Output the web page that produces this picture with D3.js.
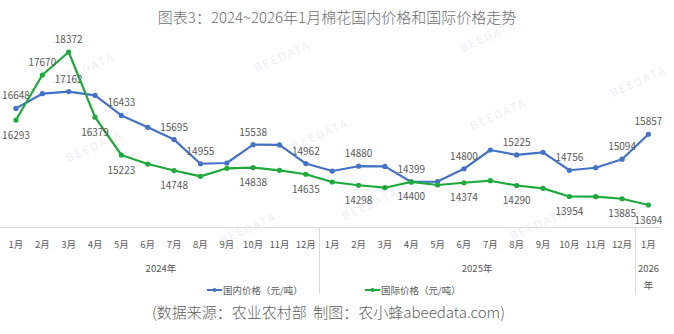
<!DOCTYPE html>
<html>
<head>
<meta charset="utf-8">
<script src="https://cdn.jsdelivr.net/npm/d3@7"></script>
<style>
  html, body { margin: 0; padding: 0; background: #fff; }
  svg { display: block; font-family: "Noto Sans CJK SC", "Noto Sans", sans-serif; }
</style>
</head>
<body>
<svg id="chart" width="674" height="334"></svg>
<script>
// Months (2024-01 .. 2026-01)
const months = ["1月","2月","3月","4月","5月","6月","7月","8月","9月","10月","11月","12月",
                "1月","2月","3月","4月","5月","6月","7月","8月","9月","10月","11月","12月",
                "1月"];
const years = [
  { label: "2024年", from: 0, to: 11 },
  { label: "2025年", from: 12, to: 23 },
  { label: "2026年", from: 24, to: 24 }
];

// Cotton prices (元/吨)
const domestic = [16648, 17097, 17162, 17048, 16433, 16070, 15695, 14955, 14978, 15538, 15530, 14962,
                  14733, 14880, 14875, 14399, 14410, 14800, 15376, 15225, 15305, 14756, 14834, 15094,
                  15857];
const international = [16293, 17670, 18372, 16379, 15223, 14947, 14748, 14571, 14816, 14838, 14755, 14635,
                       14397, 14298, 14223, 14400, 14305, 14374, 14437, 14290, 14204, 13954, 13950, 13885,
                       13694];

// Which points carry a value label
const domesticLabeled = [0, 2, 4, 6, 7, 9, 11, 13, 15, 17, 19, 21, 23, 24];
const internationalLabeled = [0, 1, 2, 3, 4, 6, 9, 11, 13, 15, 17, 19, 21, 23, 24];
// International labels sit below their points except around the early-2024 peak
const internationalAbove = [1, 2];

const seriesNames = ["国内价格（元/吨）", "国际价格（元/吨）"];
const titleText = "图表3：2024~2026年1月棉花国内价格和国际价格走势";
const sourceText = "(数据来源：农业农村部  制图：农小蜂abeedata.com)";

const colors = { domestic: "#4472C4", international: "#1FA83C" };

const svg = d3.select("#chart");

// Faint brand watermarks in the background
const marks = [[96, 150], [88, 72], [284, 60], [322, 138], [372, 208], [500, 118], [490, 40], [250, 232], [540, 228], [640, 85]];
svg.append("g").selectAll("text").data(marks).join("text")
  .attr("transform", d => `translate(${d[0]},${d[1]}) rotate(-24)`)
  .attr("text-anchor", "middle")
  .attr("font-size", 11)
  .attr("letter-spacing", 2)
  .attr("fill", "#eceef2")
  .text("BEEDATA");

// Title
svg.append("text")
  .attr("x", 337).attr("y", 23)
  .attr("text-anchor", "middle")
  .attr("font-size", 15)
  .attr("font-weight", 300)
  .attr("fill", "#6e6e6e")
  .text(titleText);

// Scales
const x = d3.scaleBand().domain(d3.range(months.length)).range([2.8, 661.6]).padding(0);
const cx = i => x(i) + x.bandwidth() / 2;
const y = d3.scaleLinear().domain([13000, 18700]).range([227.7, 41.3]);

// Category axis: baseline, month ticks, year group labels and separators
const axisY = 227.5;
const axisG = svg.append("g");
axisG.append("line")
  .attr("x1", x.range()[0] - 3).attr("x2", x.range()[1])
  .attr("y1", axisY).attr("y2", axisY)
  .attr("stroke", "#d9d9d9").attr("stroke-width", 1);

axisG.selectAll(".sep").data(years.slice(1)).join("line")
  .attr("class", "sep")
  .attr("x1", d => Math.round(x(d.from)) + 0.5).attr("x2", d => Math.round(x(d.from)) + 0.5)
  .attr("y1", axisY).attr("y2", 294)
  .attr("stroke", "#d9d9d9").attr("stroke-width", 1);

axisG.selectAll(".month").data(months).join("text")
  .attr("class", "month")
  .attr("x", (d, i) => cx(i)).attr("y", 248)
  .attr("text-anchor", "middle")
  .attr("font-size", 9.5)
  .attr("fill", "#595959")
  .text(d => d);

years.forEach(yr => {
  const mid = (x(yr.from) + x(yr.to) + x.bandwidth()) / 2;
  if (yr.from === yr.to) {
    // narrow group: wrap the label onto two lines
    const t = axisG.append("text")
      .attr("text-anchor", "middle").attr("font-size", 9.5).attr("fill", "#595959");
    t.append("tspan").attr("x", mid).attr("y", 271.5).text(yr.label.replace("年", ""));
    t.append("tspan").attr("x", mid).attr("y", 289).text("年");
  } else {
    axisG.append("text")
      .attr("x", mid).attr("y", 271.5)
      .attr("text-anchor", "middle").attr("font-size", 9.5).attr("fill", "#595959")
      .text(yr.label);
  }
});

// Lines, markers, value labels
const line = d3.line().x((d, i) => cx(i)).y(d => y(d));

function drawSeries(values, labeled, color, isAbove) {
  const g = svg.append("g");
  g.append("path").datum(values)
    .attr("d", line)
    .attr("fill", "none")
    .attr("stroke", color)
    .attr("stroke-width", 2.2)
    .attr("stroke-linejoin", "round");
  g.selectAll("circle").data(values).join("circle")
    .attr("cx", (d, i) => cx(i)).attr("cy", d => y(d))
    .attr("r", 2.6).attr("fill", color);
  g.selectAll("text").data(labeled).join("text")
    .attr("x", i => cx(i))
    .attr("y", i => y(values[i]) + (isAbove(i) ? -9 : 18.5))
    .attr("text-anchor", "middle")
    .attr("font-size", 10)
    .attr("fill", "#595959")
    .text(i => values[i]);
}
drawSeries(domestic, domesticLabeled, colors.domestic, () => true);
drawSeries(international, internationalLabeled, colors.international, i => internationalAbove.includes(i));

// Legend
const legend = [
  { name: seriesNames[0], color: colors.domestic, x: 207 },
  { name: seriesNames[1], color: colors.international, x: 365 }
];
const lg = svg.append("g").selectAll("g").data(legend).join("g")
  .attr("transform", d => `translate(${d.x},290)`);
lg.append("line").attr("x1", 0).attr("x2", 15).attr("y1", 0).attr("y2", 0)
  .attr("stroke", d => d.color).attr("stroke-width", 2);
lg.append("circle").attr("cx", 7.5).attr("cy", 0).attr("r", 2).attr("fill", d => d.color);
lg.append("text").attr("x", 16).attr("y", 3.5)
  .attr("font-size", 9.5).attr("fill", "#595959")
  .text(d => d.name);

// Source note (keep the double space between the two parts)
svg.append("text")
  .attr("x", 152).attr("y", 318)
  .attr("font-size", 15)
  .attr("font-weight", 300)
  .attr("fill", "#5e5e5e")
  .style("white-space", "pre")
  .text(sourceText);
</script>
</body>
</html>
